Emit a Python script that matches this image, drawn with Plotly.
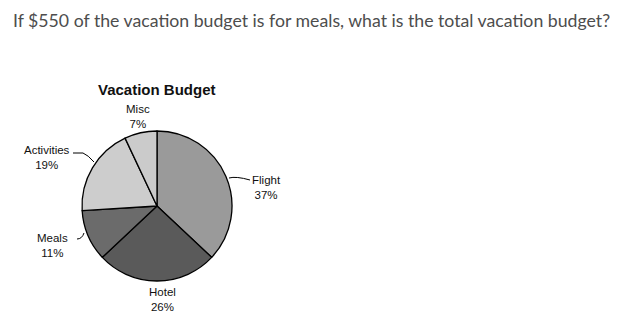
import plotly.graph_objects as go

W, H = 642, 322

# Budget shares
categories = ["Flight", "Hotel", "Meals", "Activities", "Misc"]
percents = [37, 26, 11, 19, 7]
colors = ["#9a9a9a", "#5a5a5a", "#6b6b6b", "#cdcdcd", "#cbcbcb"]

question = "If $550 of the vacation budget is for meals, what is the total vacation budget?"
title = "Vacation Budget"

# pie placement in pixels
cx, cy, r = 157, 206, 75

# label anchor points (pixel centre of the two-line label)
label_pos = {
    "Flight": (266, 187),
    "Hotel": (163, 299),
    "Meals": (52, 245),
    "Activities": (47, 158),
    "Misc": (138, 116),
}

# leader line paths (pixel coords)
leaders = {
    "Flight": "M 229 178 Q 236 176 250 180",
    "Meals": "M 77 239 Q 82 239 84 233",
    "Activities": "M 73 153 L 83 153 Q 88 155 94 162",
}


def px(x):
    return x / W


def py(y):
    return 1 - y / H


def to_paper(path):
    """Convert a pixel-space SVG path into paper coordinates."""
    out = []
    k = 0
    for t in path.split():
        if t.isalpha():
            out.append(t)
        else:
            v = float(t)
            out.append(f"{px(v):.5f}" if k % 2 == 0 else f"{py(v):.5f}")
            k += 1
    return " ".join(out)


fig = go.Figure(
    go.Pie(
        labels=categories,
        values=percents,
        sort=False,
        direction="clockwise",
        rotation=0,
        textinfo="none",
        hoverinfo="label+percent",
        marker=dict(colors=colors, line=dict(color="#000000", width=1.3)),
        domain=dict(x=[px(cx - r), px(cx + r)], y=[py(cy + r), py(cy - r)]),
        showlegend=False,
    )
)

annotations = [
    dict(
        text=question, x=px(11), y=py(21), xref="paper", yref="paper",
        xanchor="left", yanchor="middle", showarrow=False,
        font=dict(family="Lato", size=17.7, color="#4d4d4d"),
    ),
    dict(
        text="<b>" + title + "</b>", x=px(157), y=py(89), xref="paper", yref="paper",
        xanchor="center", yanchor="middle", showarrow=False,
        font=dict(family="Liberation Sans", size=15, color="#111111"),
    ),
]

for cat, pct in zip(categories, percents):
    lx, ly = label_pos[cat]
    annotations.append(
        dict(
            text=f"{cat}<br>{pct}%", x=px(lx), y=py(ly), xref="paper", yref="paper",
            xanchor="center", yanchor="middle", showarrow=False,
            font=dict(family="Liberation Sans", size=11.5, color="#111111"),
        )
    )

shapes = [
    dict(type="path", path=to_paper(p), xref="paper", yref="paper",
         line=dict(color="#000000", width=1))
    for p in leaders.values()
]

fig.update_layout(
    width=W, height=H,
    margin=dict(l=0, r=0, t=0, b=0),
    paper_bgcolor="white", plot_bgcolor="white",
    annotations=annotations,
    shapes=shapes,
)

fig.write_html("out.html")
